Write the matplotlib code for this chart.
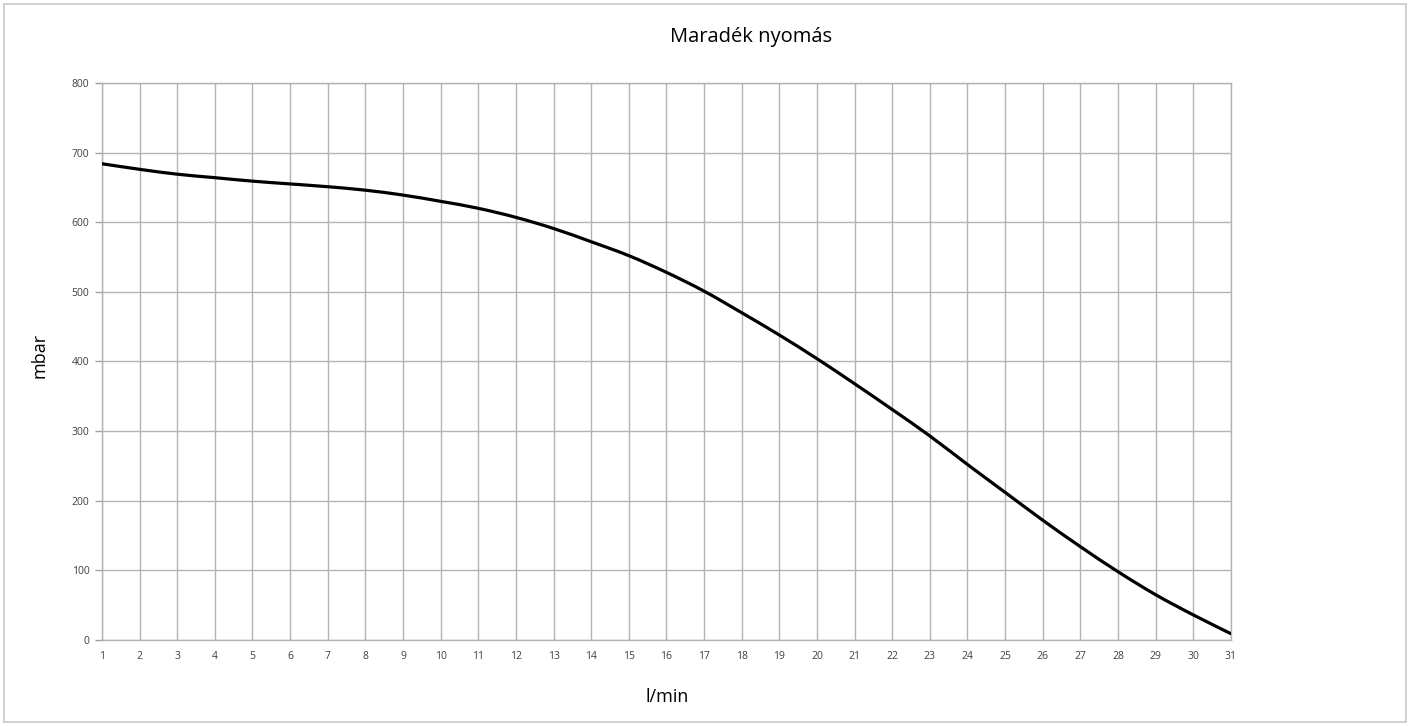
import numpy as np
import matplotlib
matplotlib.use("Agg")
import matplotlib.pyplot as plt
from matplotlib.patches import Rectangle, PathPatch
from matplotlib.path import Path

# flow (l/min) and residual pressure (mbar)
flow = list(range(1, 32))
pressure = [684, 676, 669, 664, 659, 655, 651, 646, 639, 630,
            620, 607, 591, 572, 552, 528, 501, 470, 438, 404,
            368, 331, 293, 252, 212, 172, 134, 98, 65, 36, 9]
y_ticks = [0, 100, 200, 300, 400, 500, 600, 700, 800]

plt.rcParams['font.family'] = ['Open Sans', 'DejaVu Sans']


def smooth_path(xs, ys, k=1 / 6):
    # Excel-style smoothed line: cubic bezier through every data point
    pts = np.column_stack([xs, ys]).astype(float)
    verts = [pts[0]]
    codes = [Path.MOVETO]
    n = len(pts)
    for i in range(n - 1):
        p0 = pts[max(i - 1, 0)]
        p1 = pts[i]
        p2 = pts[i + 1]
        p3 = pts[min(i + 2, n - 1)]
        c1 = p1 + (p2 - p0) * k
        c2 = p2 - (p3 - p1) * k
        verts += [c1, c2, p2]
        codes += [Path.CURVE4] * 3
    return Path(verts, codes)


fig = plt.figure(figsize=(14.1, 7.26), dpi=100)
ax = fig.add_axes([0.0723, 0.1185, 0.8007, 0.7672])

ax.add_patch(PathPatch(smooth_path(flow, pressure), facecolor='none',
                       edgecolor='black', lw=2.3, capstyle='round', zorder=3))

ax.set_xlim(1, 31)
ax.set_ylim(0, 800)
ax.set_xticks(flow)
ax.set_yticks(y_ticks)
ax.tick_params(axis='x', length=0, pad=8, labelsize=7.5, labelcolor='#404040')
ax.tick_params(axis='y', length=5, width=1, color='#a0a0a0', pad=4,
               labelsize=7.5, labelcolor='#404040')
ax.grid(True, color='#b3b3b3', lw=1)
for s in ax.spines.values():
    s.set_color('#b3b3b3')
    s.set_linewidth(1)

fig.text(0.533, 0.949, 'Maradék nyomás', ha='center', va='center', fontsize=14.5)
fig.text(0.473, 0.040, 'l/min', ha='center', va='center', fontsize=13)
fig.text(0.028, 0.511, 'mbar', ha='center', va='center', fontsize=13, rotation=90)

# light frame around the whole chart
fig.patches.append(Rectangle((0.003, 0.005), 0.994, 0.99, transform=fig.transFigure,
                             fill=False, edgecolor='#c8c8c8', lw=1.2))

plt.savefig('out.png', dpi=100)
